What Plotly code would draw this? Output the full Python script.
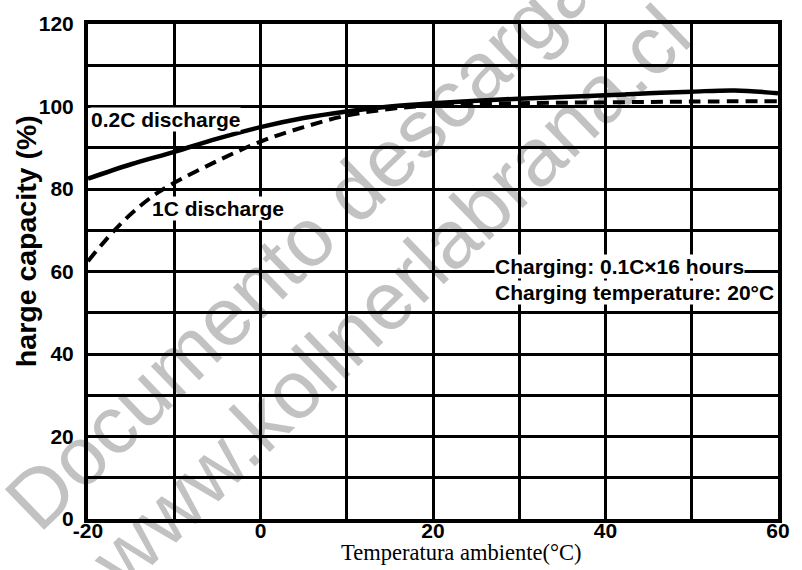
import math
import plotly.graph_objects as go

# Ambient temperature (°C) and discharge capacity (%) for two discharge rates
temperature_02c = [-20, -15, -10, -5, 0, 5, 10, 15, 20, 25, 30, 35, 40, 45, 50, 55, 60]
capacity_02c = [82.5, 86.0, 89.0, 92.2, 95.0, 97.2, 98.8, 100.0, 100.8, 101.4, 101.9,
                102.3, 102.7, 103.2, 103.6, 103.9, 103.2]

temperature_1c = [-20, -18, -16, -14, -12, -10, -5, 0, 5, 10, 15, 20, 30, 40, 50, 60]
capacity_1c = [62.5, 67.5, 72.0, 75.8, 79.0, 81.5, 86.8, 91.5, 95.0, 97.8, 99.4, 100.3,
               100.8, 101.0, 101.2, 101.3]

x_ticks = [-20, 0, 20, 40, 60]
y_ticks = [0, 20, 40, 60, 80, 100, 120]

W, H = 802, 570
M_L, M_R, M_T, M_B = 88, 12, 15, 51
PW, PH = W - M_L - M_R, H - M_T - M_B


def px_to_paper(px, py):
    return (px - M_L) / PW, (H - M_B - py) / PH


fig = go.Figure()

fig.add_trace(go.Scatter(
    x=temperature_02c, y=capacity_02c, mode="lines", line_shape="spline",
    line=dict(color="black", width=4.5), showlegend=False, hoverinfo="skip"))

fig.add_trace(go.Scatter(
    x=temperature_1c, y=capacity_1c, mode="lines", line_shape="spline",
    line=dict(color="black", width=4, dash="12px,7px"), showlegend=False, hoverinfo="skip"))

tick_font = dict(family="Liberation Sans", size=21, color="black", weight="bold")
label_font = dict(family="Liberation Sans", size=21, color="black", weight="bold")

axis_common = dict(
    showline=True, linecolor="black", linewidth=4, mirror=True,
    showgrid=True, gridcolor="black", gridwidth=3,
    zeroline=False, ticks="", tickfont=tick_font, fixedrange=True,
)

fig.update_xaxes(range=[-20, 60], tickvals=x_ticks, ticktext=[str(v) for v in x_ticks],
                 minor=dict(dtick=10, tick0=-20, showgrid=True, gridcolor="black", gridwidth=3),
                 ticklabelstandoff=-10, **axis_common)
fig.update_yaxes(range=[0, 120], tickvals=y_ticks, ticktext=[str(v) for v in y_ticks],
                 minor=dict(dtick=10, tick0=0, showgrid=True, gridcolor="black", gridwidth=3),
                 ticklabelstandoff=6, **axis_common)

annotations = [
    dict(text="0.2C discharge", x=-19.8, y=96.9),
    dict(text="1C discharge", x=-12.7, y=75.2),
    dict(text="Charging: 0.1C×16 hours", x=27.1, y=61.2),
    dict(text="Charging temperature: 20°C", x=27.1, y=55.0),
]
for a in annotations:
    fig.add_annotation(xref="x", yref="y", showarrow=False, font=label_font,
                       xanchor="left", yanchor="middle", bgcolor="white", borderpad=0, **a)

# Axis titles
tx, ty = px_to_paper(467, 553)
fig.add_annotation(xref="paper", yref="paper", x=tx, y=ty, showarrow=False,
                   text="Temperatura ambiente(°C)", xanchor="center", yanchor="middle",
                   font=dict(family="Liberation Serif", size=22.5, color="black"))
lx, ly = px_to_paper(25, 236)
fig.add_annotation(xref="paper", yref="paper", x=lx, y=ly, showarrow=False,
                   text="harge capacity (%)", textangle=-90, xanchor="center", yanchor="middle",
                   font=dict(family="Liberation Sans", size=28.5, color="black", weight="bold"))

# Diagonal watermark, laid under the grid (label follows the line's angle)
wm_font = dict(family="Liberation Sans", size=82, color="#c2c2c2")
wm_angle = math.radians(44)
for text, (cx, cy) in [
    ("Documento descargado de", (373, 160)),
    ("www.kollnerlabrana.cl", (390, 286)),
]:
    dx, dy = 300 * math.cos(wm_angle), 300 * math.sin(wm_angle)
    x0, y0 = px_to_paper(cx - dx, cy + dy)
    x1, y1 = px_to_paper(cx + dx, cy - dy)
    fig.add_shape(type="line", xref="paper", yref="paper", x0=x0, y0=y0, x1=x1, y1=y1,
                  layer="below", line=dict(width=0, color="rgba(0,0,0,0)"),
                  label=dict(text=text, textposition="middle",
                             yanchor="middle", font=wm_font))

fig.update_layout(
    width=W, height=H,
    margin=dict(l=M_L, r=M_R, t=M_T, b=M_B),
    paper_bgcolor="white", plot_bgcolor="rgba(0,0,0,0)",
    showlegend=False,
)

fig.write_html("out.html")
